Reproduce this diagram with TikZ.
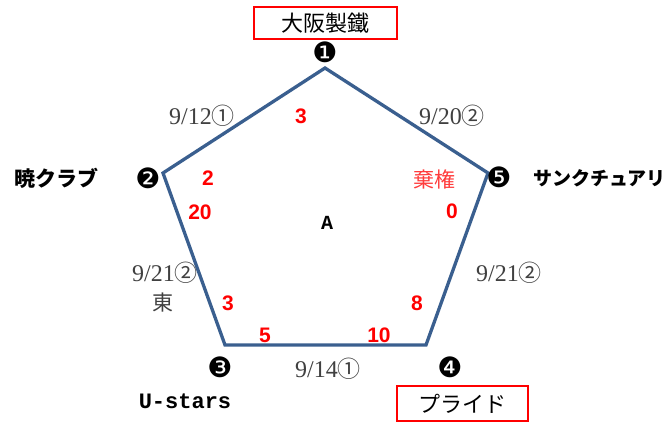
\documentclass[tikz,border=0pt]{standalone}
\usepackage{fontspec}
\setmainfont{Liberation Serif}
\newfontfamily\cjkfont{Noto Sans CJK JP}
\newfontfamily\symfont{DejaVu Sans}
\newfontfamily\redfont{Liberation Sans}
\newfontfamily\monofont{Liberation Mono}
\definecolor{edgeblue}{HTML}{3A5F8F}
\definecolor{labelgray}{HTML}{404040}
\definecolor{softred}{HTML}{FF3C3C}
\tikzset{
  team/.style={inner sep=0pt, font=\cjkfont\fontsize{22}{24}\selectfont},
  teambold/.style={inner sep=0pt, font=\cjkfont\bfseries\fontsize{21}{24}\selectfont},
  redbox/.style={draw=red, line width=1.3pt},
  marker/.style={inner sep=0pt, font=\symfont\fontsize{28}{30}\selectfont},
  score/.style={inner sep=0pt, text=red, font=\redfont\bfseries\fontsize{21}{23}\selectfont},
  datelbl/.style={inner sep=0pt, text=labelgray, font=\fontsize{24}{26}\selectfont},
  edge/.style={draw=edgeblue, line width=3.3pt, line join=miter},
}
\newcommand{\circnum}[1]{{\cjkfont\fontsize{23}{25}\selectfont #1}}
\begin{document}
\begin{tikzpicture}[x=1pt,y=-1pt]
\useasboundingbox (0,0) rectangle (670,422);
% pentagon
\coordinate (P1) at (325,68);
\coordinate (P2) at (163,173);
\coordinate (P3) at (225,345);
\coordinate (P4) at (426,345);
\coordinate (P5) at (488,173);
\draw[edge] (P1) -- (P2) -- (P3) -- (P4) -- (P5) -- cycle;
% boxes
\draw[redbox] (254,7) rectangle (397,39);
\draw[redbox] (397,386) rectangle (528,421);
% teams
\node[team] (t1) at (325,23) {大阪製鐵};
\node[teambold] (t2) at (57,178) {暁クラブ};
\node[teambold, anchor=west, font=\cjkfont\bfseries\fontsize{19}{22}\selectfont] (t5) at (533,178) {サンクチュアリ};
\node[inner sep=0pt, font=\monofont\bfseries\fontsize{22}{24}\selectfont] (t3) at (185,401) {U-stars};
\node[team] (t4) at (462,404) {プライド};
% markers
\node[marker] (m1) at (325,52) {❶};
\node[marker] (m2) at (148,178) {❷};
\node[marker] (m3) at (220,367) {❸};
\node[marker] (m4) at (450,367) {❹};
\node[marker] (m5) at (499,177) {❺};
% dates
\node[datelbl] (d12) at (202,116) {9/12\circnum{①}};
\node[datelbl] (d20) at (452,116) {9/20\circnum{②}};
\node[datelbl] (d21l) at (165,273) {9/21\circnum{②}};
\node[datelbl] (east) at (163,303) {\cjkfont\fontsize{21}{23}\selectfont 東};
\node[datelbl] (d21r) at (509,273) {9/21\circnum{②}};
\node[datelbl] (d14) at (328,369) {9/14\circnum{①}};
% scores
\node[score] (s13) at (301,116) {3};
\node[score] (s2a) at (208,178) {2};
\node[score] (s2b) at (200,212) {20};
\node[score] (s3a) at (228,303) {3};
\node[score] (s3b) at (265,335) {5};
\node[score] (s4a) at (379,335) {10};
\node[score] (s4b) at (417,303) {8};
\node[score] (s5b) at (452,211) {0};
\node[inner sep=0pt, text=softred, font=\cjkfont\fontsize{21}{23}\selectfont] (s5a) at (434,179) {棄権};
% center
\node[inner sep=0pt, font=\monofont\bfseries\fontsize{20}{22}\selectfont] (ctr) at (327,223) {A};
\end{tikzpicture}
\end{document}
